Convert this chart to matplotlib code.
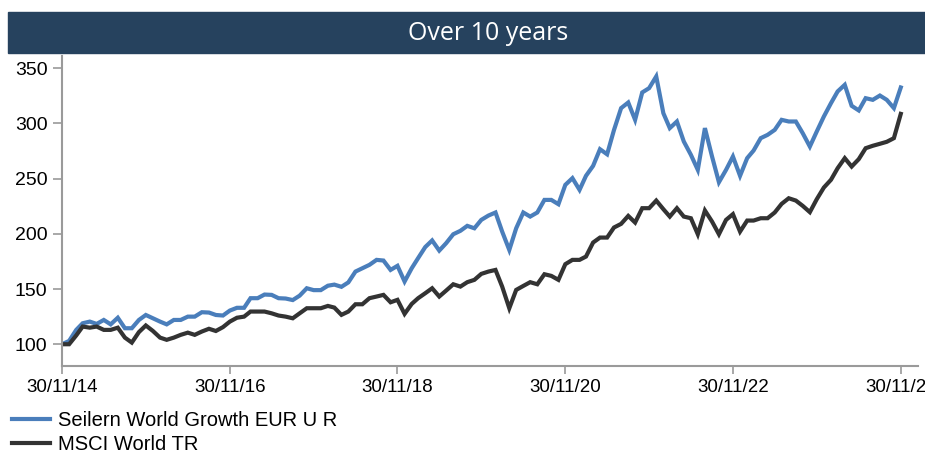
import matplotlib
matplotlib.use("Agg")
import matplotlib.pyplot as plt
import matplotlib.dates as mdates
from matplotlib.patches import Rectangle
import pandas as pd

# month-end values, rebased to 100 at 30/11/14
seilern = [100, 103, 113, 119, 120.5, 118.4, 122, 118, 124, 114.5,
           114.5, 122, 126.5, 123.5, 120.5, 118, 122, 122, 125, 125,
           129, 128.7, 126.5, 126, 130.5, 133, 133, 141.7, 141.7, 145,
           144.7, 141.7, 141.4, 140, 144, 150.7, 149, 149, 153, 154,
           152, 156, 165.8, 168.8, 171.9, 176.4, 175.8, 167.3, 171, 156.8,
           168.8, 178, 188, 194, 184.8, 191.5, 199.6, 202.7, 207.2, 205,
           212.6, 216.5, 219.3, 202, 185.4, 205, 219.3, 215.6, 219.3, 230.7,
           230.7, 226.8, 244.3, 250.4, 239.8, 252.5, 261.5, 276.6, 272, 294,
           313.8, 318.9, 303.2, 328, 331.9, 342.5, 309.2, 295.7, 301.7, 283.6,
           271.5, 257.9, 295.7, 270, 246.7, 257.9, 270, 252.5, 268.5, 275.4,
           286.6, 289.6, 294.1, 303.2, 301.7, 301.7, 291.1, 279, 292.6, 306.2,
           318.3, 328.9, 334.9, 315.9, 311.7, 322.8, 321.3, 325.2, 321.3, 313.8,
           332.5]
msci = [100, 100, 108, 116, 115, 116, 113, 113, 115, 106,
        101.5, 111, 117, 112, 106, 104, 106, 108.5, 110.5, 108.5,
        111.5, 114, 112, 115.5, 120.5, 124, 125, 129.6, 129.6, 129.6,
        128, 126, 125, 123.5, 128, 132.6, 132.6, 132.6, 134.7, 133.2,
        126.6, 129.6, 136.2, 136.2, 141.7, 143.2, 144.7, 138, 140.2, 127.5,
        136.5, 141.7, 146.2, 150.7, 143.2, 148.6, 154.3, 152.2, 156.2, 158.3,
        163.7, 165.8, 167.3, 152.2, 132.6, 149.2, 152.8, 156.2, 154.3, 163.4,
        161.9, 158.3, 172.5, 176.4, 176.4, 179.4, 192.1, 196.6, 196.6, 205.7,
        209, 216.2, 210.2, 223.2, 223.2, 230.1, 222.3, 215.6, 223.2, 215.6,
        214.1, 199.6, 221.1, 211.1, 199.6, 212.6, 217.8, 202, 212, 212,
        214.1, 214.1, 219.3, 227.1, 232.2, 230.1, 225.3, 219.6, 231.3, 241.9,
        248.9, 259.4, 268.5, 260.9, 267.6, 277.5, 279.7, 281.5, 283.3, 286.6,
        308.6]
dates = pd.date_range("2014-11-30", "2024-11-30", freq="ME")
tick_dates = pd.to_datetime(["2014-11-30", "2016-11-30", "2018-11-30",
                             "2020-11-30", "2022-11-30", "2024-11-30"])
labels = ["Seilern World Growth EUR U R", "MSCI World TR"]
title = "Over 10 years"

plt.rcParams["font.family"] = ["Liberation Sans", "DejaVu Sans"]

fig = plt.figure(figsize=(9.25, 4.54), dpi=100)
W, H = 925, 454

# title banner
fig.patches.append(Rectangle((8 / W, 1 - 53 / H), 1, 41 / H, transform=fig.transFigure,
                             color="#26425E", zorder=0))
fig.text(488 / W, 1 - 33 / H, title, color="white", fontsize=18,
         family=["Open Sans", "DejaVu Sans"], ha="center", va="center")

ax = fig.add_axes([62 / W, 1 - 366 / H, (918 - 62) / W, (366 - 56) / H])
ax.plot(dates, seilern, color="#4A7EBB", lw=3, label=labels[0], solid_joinstyle="miter")
ax.plot(dates, msci, color="#333333", lw=3, label=labels[1], solid_joinstyle="miter")

ax.set_ylim(80.3, 361)
ax.set_xlim(dates[0], pd.Timestamp("2025-02-13"))
ax.set_yticks([100, 150, 200, 250, 300, 350])
ax.set_xticks(tick_dates)
ax.xaxis.set_major_formatter(mdates.DateFormatter("%d/%m/%y"))

for s in ["top", "right"]:
    ax.spines[s].set_visible(False)
for s in ["left", "bottom"]:
    ax.spines[s].set_color("#9A9A9A")
    ax.spines[s].set_linewidth(1.5)
ax.tick_params(axis="y", length=6.5, width=1.2, color="#9A9A9A", pad=4, labelsize=14)
ax.tick_params(axis="x", length=5.5, width=1.2, color="#9A9A9A", pad=4, labelsize=13.5)

fig.legend(loc="upper left", bbox_to_anchor=(12 / W, 1 - 411 / H), frameon=False,
           fontsize=14.5, handlelength=1.9, handletextpad=0.4, labelspacing=0.25,
           borderpad=0, borderaxespad=0)

fig.savefig("out.png", dpi=100)
